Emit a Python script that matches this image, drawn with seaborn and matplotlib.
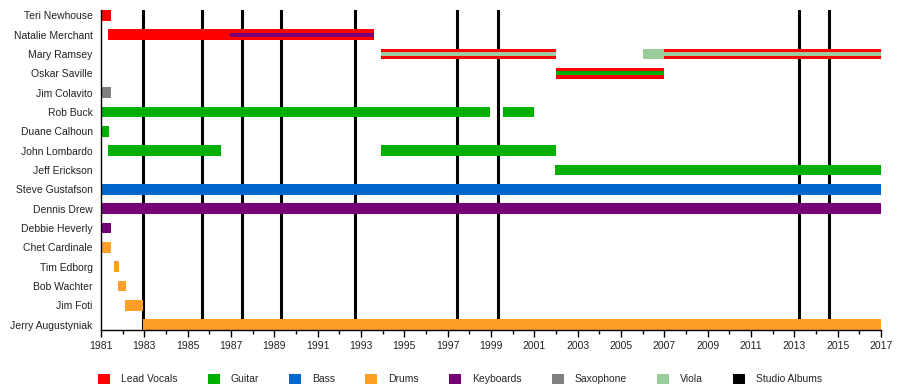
import matplotlib
matplotlib.use("Agg")
import matplotlib.pyplot as plt
from matplotlib.patches import Patch
from matplotlib.ticker import MultipleLocator
import seaborn as sns
import pandas as pd

members = ["Teri Newhouse", "Natalie Merchant", "Mary Ramsey", "Oskar Saville",
           "Jim Colavito", "Rob Buck", "Duane Calhoun", "John Lombardo",
           "Jeff Erickson", "Steve Gustafson", "Dennis Drew", "Debbie Heverly",
           "Chet Cardinale", "Tim Edborg", "Bob Wachter", "Jim Foti",
           "Jerry Augustyniak"]

# main bars: (member, role, start, end)
seg_member = ["Teri Newhouse", "Natalie Merchant", "Mary Ramsey", "Mary Ramsey", "Mary Ramsey",
              "Oskar Saville", "Jim Colavito", "Rob Buck", "Rob Buck", "Duane Calhoun",
              "John Lombardo", "John Lombardo", "Jeff Erickson", "Steve Gustafson",
              "Dennis Drew", "Debbie Heverly", "Chet Cardinale", "Tim Edborg",
              "Bob Wachter", "Jim Foti", "Jerry Augustyniak"]
seg_role = ["Lead Vocals", "Lead Vocals", "Lead Vocals", "Viola", "Lead Vocals",
            "Lead Vocals", "Saxophone", "Guitar", "Guitar", "Guitar",
            "Guitar", "Guitar", "Guitar", "Bass",
            "Keyboards", "Keyboards", "Drums", "Drums",
            "Drums", "Drums", "Drums"]
seg_start = [1981.0, 1981.3, 1993.9, 2006.0, 2007.0,
             2002.0, 1981.0, 1981.0, 1999.55, 1981.0,
             1981.3, 1993.9, 2001.95, 1981.0,
             1981.0, 1981.0, 1981.0, 1981.6,
             1981.8, 1982.1, 1982.95]
seg_end = [1981.45, 1993.6, 2002.0, 2007.0, 2017.0,
           2007.0, 1981.45, 1998.95, 2001.0, 1981.35,
           1986.55, 2002.0, 2017.0, 2017.0,
           2017.0, 1981.45, 1981.45, 1981.85,
           1982.15, 1982.95, 2017.0]

# secondary roles (thin stripes)
sub_member = ["Natalie Merchant", "Mary Ramsey", "Mary Ramsey", "Oskar Saville"]
sub_role = ["Keyboards", "Viola", "Viola", "Guitar"]
sub_start = [1986.95, 1993.9, 2007.0, 2002.0]
sub_end = [1993.6, 2002.0, 2017.0, 2007.0]

albums = [1982.95, 1985.65, 1987.5, 1989.3, 1992.7, 1997.45, 1999.3, 2013.2, 2014.6]

roles = ["Lead Vocals", "Guitar", "Bass", "Drums", "Keyboards", "Saxophone", "Viola", "Studio Albums"]
role_colors = ["#ff0000", "#00b000", "#0066cc", "#ff9f2a", "#770077", "#808080", "#99cc99", "#000000"]
cmap = dict(zip(roles, role_colors))

sns.set_theme(style="white")
plt.rcParams['font.family'] = ['Liberation Sans', 'DejaVu Sans']

df = pd.DataFrame({"member": seg_member, "role": seg_role, "start": seg_start, "end": seg_end})
sub = pd.DataFrame({"member": sub_member, "role": sub_role, "start": sub_start, "end": sub_end})
ypos = {m: i for i, m in enumerate(members)}

fig = plt.figure(figsize=(9, 3.9), dpi=100)
ax = fig.add_axes([101/900, 1 - 330/390, 780/900, 320/390])

for a in albums:
    ax.axvline(a, color="black", lw=2.2, zorder=1)

bh = 0.55
for _, r in df.iterrows():
    ax.barh(ypos[r.member], r.end - r.start, left=r.start, height=bh,
            color=cmap[r.role], linewidth=0, zorder=2)
for _, r in sub.iterrows():
    ax.barh(ypos[r.member], r.end - r.start, left=r.start, height=bh * 0.36,
            color=cmap[r.role], linewidth=0, zorder=3)

ax.set_xlim(1981, 2017)
ax.set_ylim(len(members) - 1 + bh / 2, -bh / 2)
ax.set_yticks(range(len(members)))
ax.set_yticklabels(members, fontsize=7.5, color="#222222")
ax.set_xticks(range(1981, 2018, 2))
ax.set_xticklabels([str(y) for y in range(1981, 2018, 2)], fontsize=7.5, color="#222222")
ax.xaxis.set_minor_locator(MultipleLocator(1))
ax.tick_params(axis="x", which="major", direction="out", length=5, width=1, color="black", bottom=True, pad=3)
ax.tick_params(axis="x", which="minor", direction="out", length=3, width=1, color="black", bottom=True)
ax.tick_params(axis="y", length=0, pad=6)
sns.despine(ax=ax, top=True, right=True)
for s in ["left", "bottom"]:
    ax.spines[s].set_color("black")
    ax.spines[s].set_linewidth(1)
ax.grid(False)

handles = [Patch(facecolor=c, edgecolor="none") for c in role_colors]
fig.legend(handles, roles, loc="center", bbox_to_anchor=(460/900, 1 - 379/390), ncol=8,
           frameon=False, fontsize=7.5, handlelength=1.15, handleheight=1.2,
           handletextpad=1.0, columnspacing=2.95)

fig.savefig("out.png", dpi=100)
